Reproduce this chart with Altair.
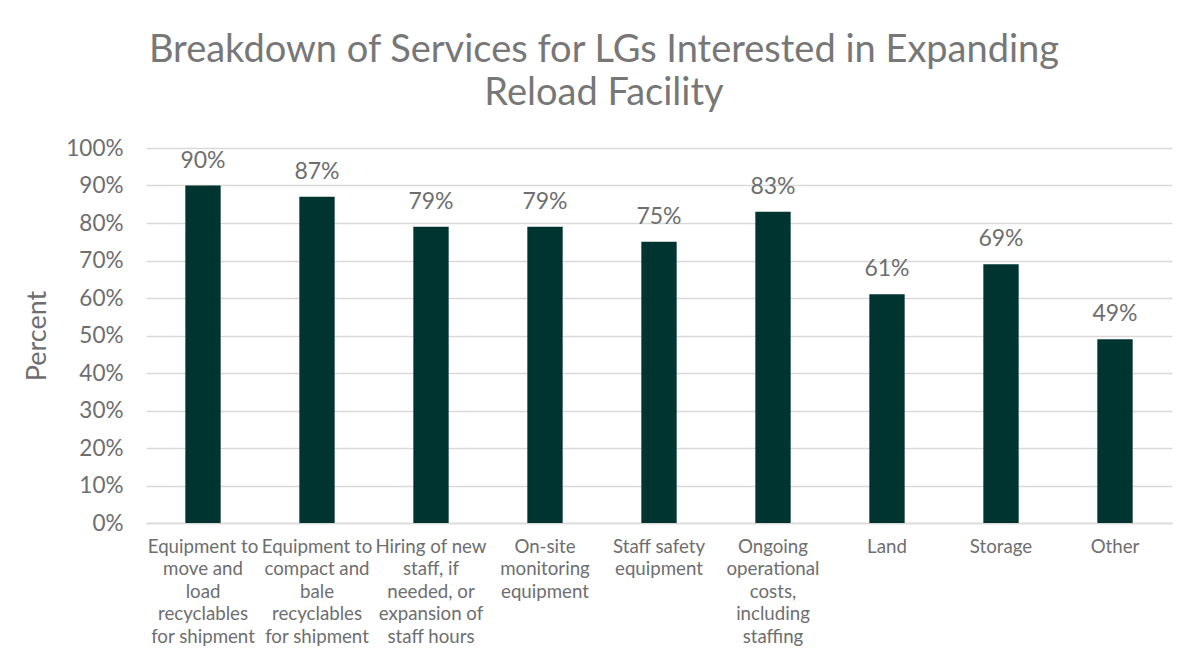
import altair as alt
import pandas as pd

categories = [
    "Equipment to\nmove and\nload\nrecyclables\nfor shipment",
    "Equipment to\ncompact and\nbale\nrecyclables\nfor shipment",
    "Hiring of new\nstaff, if\nneeded, or\nexpansion of\nstaff hours",
    "On-site\nmonitoring\nequipment",
    "Staff safety\nequipment",
    "Ongoing\noperational\ncosts,\nincluding\nstaffing",
    "Land",
    "Storage",
    "Other",
]
values = [0.90, 0.87, 0.79, 0.79, 0.75, 0.83, 0.61, 0.69, 0.49]

df = pd.DataFrame({"service": categories, "pct": values})

BAR = "#003430"
TXT = "#6e6e6e"
FONT = "Lato"

base = alt.Chart(df).encode(
    x=alt.X(
        "service:N",
        sort=categories,
        title=None,
        scale=alt.Scale(paddingInner=0.69, paddingOuter=0.345),
        axis=alt.Axis(
            labelAngle=0,
            labelExpr="split(datum.label, '\\n')",
            labelFont=FONT,
            labelFontSize=18.7,
            labelColor=TXT,
            labelLineHeight=22.5,
            labelPadding=14,
            labelLimit=200,
            ticks=False,
            domainColor="#d9d9d9",
            domainWidth=1.5,
            grid=False,
        ),
    ),
    y=alt.Y(
        "pct:Q",
        title="Percent",
        scale=alt.Scale(domain=[0, 1]),
        axis=alt.Axis(
            format=".0%",
            values=[i / 10 for i in range(11)],
            labelFont=FONT,
            labelFontSize=22.5,
            labelColor=TXT,
            labelPadding=23,
            ticks=False,
            domain=False,
            gridColor="#d9d9d9",
            gridWidth=1.5,
            titleFont=FONT,
            titleFontSize=27,
            titleFontWeight="normal",
            titleColor=TXT,
            titlePadding=14,
        ),
    ),
)

bars = base.mark_bar(color=BAR)
labels = base.mark_text(
    baseline="bottom", dy=-13, font=FONT, fontSize=23, color=TXT
).encode(text=alt.Text("pct:Q", format=".0%"))

chart = (
    alt.layer(bars, labels, view=alt.ViewBackground(stroke="transparent", strokeWidth=0))
    .properties(
        width=1026,
        height=375,
        autosize=alt.AutoSizeParams(type="none"),
        padding={"left": 138, "top": 140, "right": 10, "bottom": 125},
        title=alt.TitleParams(
            ["Breakdown of Services for LGs Interested in Expanding", "Reload Facility"],
            font=FONT,
            fontSize=38,
            fontWeight="normal",
            color="#777777",
            anchor="middle",
            frame="group",
            dx=-55,
            offset=24,
            lineHeight=43,
        ),
    )
    .configure_view(stroke="transparent", strokeWidth=0)
    .configure(background="white")
)

chart.save("out.html", embed_options={"renderer": "svg", "actions": False})
